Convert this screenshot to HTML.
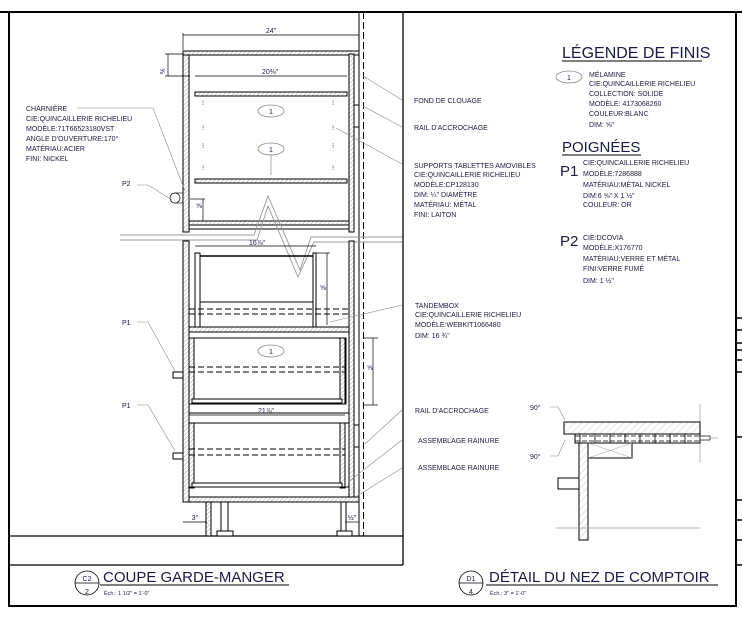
<!DOCTYPE html>
<html><head><meta charset="utf-8"><style>
html,body{margin:0;padding:0;background:#fff;}
svg{display:block;font-family:"Liberation Sans",Arial,sans-serif;}
.t{font-size:7px;fill:#1a1a40;}
</style></head><body>
<svg width="742" height="625" viewBox="0 0 742 625" xmlns="http://www.w3.org/2000/svg">
<defs>
<pattern id="h" width="3" height="3" patternUnits="userSpaceOnUse" patternTransform="rotate(45)">
<rect width="3" height="3" fill="#fff"/><line x1="0" y1="0" x2="0" y2="3" stroke="#aaa" stroke-width="1"/></pattern>
<pattern id="h2" width="5" height="5" patternUnits="userSpaceOnUse" patternTransform="rotate(45)">
<rect width="5" height="5" fill="#fff"/><line x1="0" y1="0" x2="0" y2="5" stroke="#bbb" stroke-width="0.8"/></pattern>
</defs>
<rect width="742" height="625" fill="#fff"/>
<!-- frame -->
<g stroke="#000" fill="none">
<line x1="0" y1="12" x2="742" y2="12" stroke-width="2"/>
<line x1="9" y1="12" x2="9" y2="606" stroke-width="2"/>
<line x1="8" y1="606" x2="737" y2="606" stroke-width="2"/>
<line x1="736" y1="12" x2="736" y2="607" stroke-width="2"/>
<line x1="403" y1="12" x2="403" y2="565" stroke-width="1.3"/>
<line x1="9" y1="565" x2="403" y2="565" stroke-width="1.3"/>
<line x1="9" y1="536" x2="403" y2="536" stroke-width="1.2"/>
<g stroke-width="1.5">
<line x1="736" y1="318" x2="742" y2="318"/><line x1="736" y1="330" x2="742" y2="330"/>
<line x1="736" y1="343" x2="742" y2="343"/><line x1="736" y1="350" x2="742" y2="350"/>
<line x1="736" y1="360" x2="742" y2="360"/><line x1="736" y1="372" x2="742" y2="372"/>
<line x1="736" y1="437" x2="742" y2="437"/><line x1="736" y1="500" x2="742" y2="500"/>
<line x1="736" y1="520" x2="742" y2="520"/><line x1="736" y1="540" x2="742" y2="540"/>
<line x1="736" y1="565" x2="742" y2="565"/>
</g>
</g>
<!-- wall lines -->
<line x1="359" y1="12" x2="359" y2="536" stroke="#000" stroke-width="1"/>
<line x1="363.5" y1="12" x2="363.5" y2="536" stroke="#000" stroke-width="1" stroke-dasharray="7,3"/>
<!-- cabinet upper -->
<g stroke="#000" stroke-width="1">
<rect x="183" y="51" width="6" height="181" fill="url(#h)"/>
<rect x="183" y="51" width="176" height="4" fill="url(#h)"/>
<rect x="349" y="54" width="5" height="178" fill="url(#h)"/>
<rect x="354" y="105" width="5" height="22" fill="#fff"/>
<rect x="195" y="92" width="152" height="4" fill="url(#h)"/>
<rect x="195" y="179" width="152" height="4" fill="url(#h)"/>
<rect x="189" y="221" width="160" height="4" fill="url(#h)"/>
<rect x="189" y="225" width="160" height="4" fill="#fff"/>
</g>
<!-- break -->
<g stroke="#999" stroke-width="0.9" fill="none">
<polyline points="120,235 254,235 268,196 300,270 311,237 402,237"/>
<polyline points="120,240 257,240 268,206 298,277 314,242 402,242"/>
</g>
<!-- lower -->
<g stroke="#000" stroke-width="1">
<rect x="183" y="241" width="6" height="261" fill="url(#h)"/>
<rect x="349" y="241" width="5" height="260" fill="url(#h)"/>
<rect x="195" y="253" width="5" height="74" fill="#fff"/>
<rect x="313" y="253" width="3" height="74" fill="#fff"/>
<line x1="200" y1="256" x2="313" y2="256" stroke-width="1.5"/>
<line x1="200" y1="302" x2="313" y2="302"/>
<line x1="189" y1="309" x2="349" y2="309" stroke-dasharray="6,3"/>
<line x1="189" y1="314" x2="349" y2="314" stroke-dasharray="6,3"/>
<rect x="189" y="327" width="160" height="5" fill="url(#h)"/>
<rect x="189" y="338" width="157" height="66" fill="none"/>
<rect x="189" y="338" width="5" height="66" fill="url(#h)"/>
<rect x="340" y="338" width="5" height="66" fill="url(#h)"/>
<rect x="192" y="399" width="150" height="4" fill="#fff"/>
<line x1="189" y1="367" x2="345" y2="367" stroke-dasharray="6,3"/>
<line x1="189" y1="372" x2="345" y2="372" stroke-dasharray="6,3"/>
<line x1="189" y1="413" x2="349" y2="413"/>
<line x1="189" y1="423" x2="349" y2="423"/>
<rect x="189" y="423" width="5" height="65" fill="url(#h)"/>
<rect x="340" y="423" width="5" height="65" fill="url(#h)"/>
<rect x="192" y="483" width="150" height="4" fill="#fff"/>
<line x1="189" y1="449" x2="345" y2="449" stroke-dasharray="6,3"/>
<line x1="189" y1="455" x2="345" y2="455" stroke-dasharray="6,3"/>
<line x1="189" y1="487" x2="349" y2="487"/>
<rect x="189" y="497" width="170" height="5" fill="url(#h)"/>
<rect x="354" y="425" width="5" height="22" fill="#fff"/>
<rect x="173" y="372" width="10" height="6" fill="#fff"/>
<rect x="173" y="453" width="10" height="6" fill="#fff"/>
<rect x="206" y="502" width="5" height="34" fill="url(#h)"/>
<rect x="221" y="502" width="7" height="29" fill="#fff"/>
<rect x="217" y="531" width="16" height="5" fill="#fff"/>
<rect x="341" y="502" width="5" height="29" fill="#fff"/>
<rect x="337" y="531" width="15" height="5" fill="#fff"/>
<rect x="175" y="193" width="8" height="10" fill="none" stroke-width="0.6"/>
<circle cx="175" cy="198" r="5" fill="#fff" stroke-width="0.7"/>
</g>
<!-- dims -->
<g stroke="#000" stroke-width="0.7" fill="none">
<line x1="183" y1="35" x2="359" y2="35"/><line x1="183" y1="33" x2="183" y2="50"/><line x1="359" y1="30" x2="359" y2="40"/>
<line x1="165" y1="54" x2="183" y2="54"/><line x1="165" y1="76" x2="190" y2="76"/><line x1="168" y1="54" x2="168" y2="76"/>
<line x1="195" y1="76" x2="347" y2="76"/>
<line x1="190" y1="199" x2="205" y2="199"/><line x1="203" y1="199" x2="203" y2="221"/>
<line x1="195" y1="246" x2="316" y2="246"/>
<line x1="316" y1="253" x2="330" y2="253"/><line x1="327" y1="253" x2="327" y2="325"/>
<line x1="363" y1="338" x2="378" y2="338"/><line x1="363" y1="405" x2="378" y2="405"/><line x1="373" y1="338" x2="373" y2="405"/>
<line x1="189" y1="415" x2="345" y2="415"/>
<line x1="183" y1="522" x2="207" y2="522"/><line x1="345" y1="522" x2="359" y2="522"/>
</g>
<!-- shelf pins -->
<g class="t" fill="#999" font-size="6"><text x="202" y="105">⁝</text><text x="202" y="130">⁝</text><text x="202" y="148">⁝</text><text x="202" y="170">⁝</text><text x="332" y="105">⁝</text><text x="332" y="130">⁝</text><text x="332" y="148">⁝</text><text x="332" y="170">⁝</text></g>
<g fill="#fff" stroke="#888" stroke-width="0.8">
<ellipse cx="271" cy="111" rx="13" ry="6"/><ellipse cx="271" cy="149" rx="13" ry="6"/><ellipse cx="271" cy="351" rx="13" ry="6"/>
<ellipse cx="569" cy="77" rx="13" ry="6"/>
</g>
<line x1="271" y1="155" x2="271" y2="175" stroke="#888" stroke-width="0.7"/>
<g class="t" font-size="8" text-anchor="middle"><text x="271" y="114">1</text><text x="271" y="152">1</text><text x="271" y="354">1</text><text x="569" y="80">1</text></g>
<!-- dim text -->
<g class="t" text-anchor="middle" font-size="7">
<text x="271" y="33">24"</text><text x="270" y="74">20⅜"</text><text x="257" y="245">16⅞"</text><text x="266" y="413">21⅞"</text>
<text x="195" y="520">3"</text><text x="352" y="520">½"</text>
</g>
<g class="t" font-size="6"><text x="160" y="68" transform="rotate(90 160 68)">⅝</text><text x="196" y="208">⅝</text><text x="320" y="290">⅝</text><text x="367" y="370">⅝</text></g>
<!-- leaders -->
<g stroke="#888" stroke-width="0.6" fill="none">
<polyline points="77,108 153,108 185,191"/>
<polyline points="137,185 148,185 172,200"/>
<polyline points="137,322 148,322 175,371"/>
<polyline points="137,405 148,405 175,451"/>
<polyline points="402,100 363,76"/>
<polyline points="402,127 363,106"/>
<polyline points="402,164 336,128"/>
<polyline points="402,305 330,322"/>
<polyline points="402,410 365,444"/>
<polyline points="402,440 348,482"/>
<polyline points="402,468 357,496"/>
<polyline points="550,407 558,407 565,420"/>
<polyline points="550,456 558,456 565,440"/>
</g>
<!-- left notes -->
<g class="t">
<text x="26" y="111">CHARNIÈRE</text><text x="26" y="121">CIE:QUINCAILLERIE RICHELIEU</text><text x="26" y="131">MODÈLE:71T66523180VST</text><text x="26" y="141">ANGLE D'OUVERTURE:170°</text><text x="26" y="151">MATÉRIAU:ACIER</text><text x="26" y="161">FINI: NICKEL</text>
<text x="122" y="186">P2</text><text x="122" y="325">P1</text><text x="122" y="408">P1</text>
<text x="414" y="103">FOND DE CLOUAGE</text><text x="414" y="130">RAIL D'ACCROCHAGE</text>
<text x="414" y="168">SUPPORTS TABLETTES AMOVIBLES</text><text x="414" y="177">CIE:QUINCAILLERIE RICHELIEU</text><text x="414" y="187">MODÈLE:CP128130</text><text x="414" y="197">DIM: ¼" DIAMÈTRE</text><text x="414" y="207">MATÉRIAU: MÉTAL</text><text x="414" y="217">FINI: LAITON</text>
<text x="415" y="308">TANDEMBOX</text><text x="415" y="317">CIE:QUINCAILLERIE RICHELIEU</text><text x="415" y="327">MODÈLE:WEBKIT1066480</text><text x="415" y="338">DIM: 16 ¾"</text>
<text x="415" y="413">RAIL D'ACCROCHAGE</text><text x="418" y="443">ASSEMBLAGE RAINURE</text><text x="418" y="470">ASSEMBLAGE RAINURE</text>
<text x="530" y="410">90°</text><text x="530" y="459">90°</text>
</g>
<!-- legend -->
<text x="562" y="58" font-size="16" fill="#1a1a40">LÉGENDE DE FINIS</text>
<line x1="562" y1="61" x2="702" y2="61" stroke="#000" stroke-width="1"/>
<g class="t"><text x="589" y="77">MÉLAMINE</text><text x="589" y="86">CIE:QUINCAILLERIE RICHELIEU</text><text x="589" y="96">COLLECTION: SOLIDE</text><text x="589" y="106">MODÈLE: 4173068260</text><text x="589" y="116">COULEUR:BLANC</text><text x="589" y="127">DIM: ⅝"</text></g>
<text x="562" y="152" font-size="15" fill="#1a1a40">POIGNÉES</text>
<line x1="562" y1="155" x2="641" y2="155" stroke="#000" stroke-width="1"/>
<text x="560" y="176" font-size="15" fill="#1a1a40">P1</text>
<g class="t"><text x="583" y="165">CIE:QUINCAILLERIE RICHELIEU</text><text x="583" y="176">MODÈLE:7286888</text><text x="583" y="187">MATÉRIAU:MÉTAL NICKEL</text><text x="583" y="198">DIM:6 ⅝" X 1 ½"</text><text x="583" y="207">COULEUR: OR</text></g>
<text x="560" y="246" font-size="15" fill="#1a1a40">P2</text>
<g class="t"><text x="583" y="240">CIE:DCOVIA</text><text x="583" y="250">MODÈLE:X176770</text><text x="583" y="261">MATÉRIAU:VERRE ET MÉTAL</text><text x="583" y="271">FINI:VERRE FUMÉ</text><text x="583" y="283">DIM: 1 ½"</text></g>
<!-- detail D1 -->
<g stroke="#000" stroke-width="1">
<line x1="700" y1="404" x2="700" y2="462" stroke="#999" stroke-width="0.7"/>
<rect x="564" y="422" width="136" height="12" fill="url(#h2)"/>
<rect x="575" y="434" width="125" height="9" fill="#fff"/>
<g stroke-width="0.8">
<line x1="575" y1="436" x2="700" y2="436" stroke-dasharray="5,2"/><line x1="575" y1="441" x2="700" y2="441" stroke-dasharray="5,2"/>
<line x1="580" y1="434" x2="580" y2="443"/><line x1="595" y1="434" x2="595" y2="443"/><line x1="610" y1="434" x2="610" y2="443"/><line x1="625" y1="434" x2="625" y2="443"/><line x1="640" y1="434" x2="640" y2="443"/><line x1="655" y1="434" x2="655" y2="443"/><line x1="670" y1="434" x2="670" y2="443"/><line x1="685" y1="434" x2="685" y2="443"/>
</g>
<rect x="700" y="436" width="10" height="4" fill="#fff" stroke-width="0.7"/>
<line x1="710" y1="438" x2="718" y2="438" stroke="#999" stroke-width="0.7"/>
<rect x="579" y="443" width="9" height="97" fill="url(#h2)"/>
<rect x="588" y="443" width="44" height="15" fill="#fff"/>
<line x1="588" y1="443" x2="632" y2="458" stroke="#aaa" stroke-width="0.6"/><line x1="632" y1="443" x2="588" y2="458" stroke="#aaa" stroke-width="0.6"/>
<rect x="558" y="478" width="21" height="11" fill="#fff"/>
</g>
<line x1="556" y1="528" x2="700" y2="528" stroke="#999" stroke-width="0.8"/>
<!-- titles -->
<g stroke="#000" fill="#fff" stroke-width="0.8">
<circle cx="87" cy="583" r="12"/><line x1="75" y1="583" x2="99" y2="583"/>
<circle cx="471" cy="583" r="12"/><line x1="459" y1="583" x2="483" y2="583"/>
</g>
<g class="t" font-size="9" text-anchor="middle"><text x="87" y="581">C2</text><text x="87" y="594">2</text><text x="471" y="581">D1</text><text x="471" y="594">4</text></g>
<text x="103" y="582" font-size="15" fill="#1a1a40">COUPE GARDE-MANGER</text>
<line x1="100" y1="585" x2="289" y2="585" stroke="#000" stroke-width="1"/>
<text x="104" y="595" font-size="5.5" fill="#1a1a40">Éch.: 1 1/2" = 1'-0"</text>
<text x="489" y="582" font-size="15" fill="#1a1a40">DÉTAIL DU NEZ DE COMPTOIR</text>
<line x1="486" y1="585" x2="718" y2="585" stroke="#000" stroke-width="1"/>
<text x="490" y="595" font-size="5.5" fill="#1a1a40">Éch.: 3" = 1'-0"</text>
</svg>
</body></html>
